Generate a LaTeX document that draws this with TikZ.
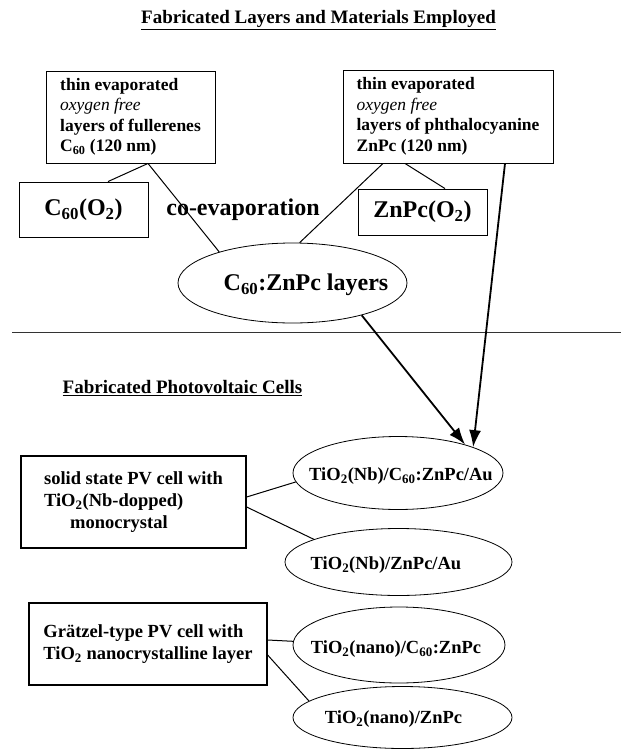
\documentclass[tikz,border=0pt]{standalone}
\usepackage{fontspec}
\setmainfont{Liberation Serif}
\usetikzlibrary{shapes.geometric,arrows.meta}
\newcommand{\sbs}[1]{\textsubscript{#1}}
\newcommand{\headfont}{\fontsize{19}{22}\selectfont\bfseries}
\newcommand{\boxfont}{\fontsize{17.5}{20.5}\selectfont\bfseries}
\newcommand{\bigfont}{\fontsize{24}{28}\selectfont\bfseries}
\newcommand{\cellfont}{\fontsize{18.5}{22}\selectfont\bfseries}

\begin{document}
\begin{tikzpicture}[x=1pt,y=-1pt,
  layerbox/.style={draw, line width=0.9pt, align=left, font=\boxfont, inner sep=0pt},
  oxbox/.style={draw, line width=0.9pt, font=\bigfont, minimum width=129pt, inner sep=0pt},
  cellbox/.style={draw, line width=1.3pt, align=left, font=\cellfont, inner sep=0pt},
  cellell/.style={draw, ellipse, line width=0.8pt, inner sep=0pt},
  celltxt/.style={font=\cellfont, inner sep=0pt}]
\useasboundingbox (0,0) rectangle (621,750);

\node[font=\headfont] (t1) at (318.5,20) {\underline{Fabricated Layers and Materials Employed}};

\node[layerbox, minimum width=169pt, minimum height=92pt] (fl) at (130.5,117) {thin evaporated\\ {\mdseries\itshape oxygen free}\\ layers of fullerenes\\ C\sbs{60} (120 nm)};
\node[layerbox, minimum width=210pt, minimum height=93pt] (pc) at (448,116.5) {thin evaporated\\ {\mdseries\itshape oxygen free}\\ layers of phthalocyanine\\ ZnPc (120 nm)};

\node[oxbox, minimum height=55pt] (co) at (83.5,209.5) {C\sbs{60}(O\sbs{2})};
\node[oxbox, minimum height=46pt] (zo) at (422.5,212) {ZnPc(O\sbs{2})};
\node[font=\bigfont] (cev) at (243,210) {co-evaporation};

\node[cellell, minimum width=229pt, minimum height=80pt] (cz) at (292.5,283) {};
\node[font=\bigfont, inner sep=0pt] (czt) at (306,285) {C\sbs{60}:ZnPc layers};

\path[draw,line width=1pt] ([xshift=17.5pt]fl.south) -- ([xshift=24.5pt]co.north);
\path[draw,line width=1pt] ([xshift=17.5pt]fl.south) -- (cz.157);
\path[draw,line width=1pt] ([xshift=-65pt]pc.south) -- (cz.80);
\path[draw,line width=1pt] ([xshift=-43pt]pc.south) -- ([xshift=22.5pt]zo.north);

% separator
\draw[line width=0.8pt, black!80] (12,332) -- (621,332);

\node[font=\headfont] (t2) at (182.5,388) {\underline{Fabricated Photovoltaic Cells}};

\node[cellbox, minimum width=225pt, minimum height=92pt] (ss) at (133.5,502) {solid state PV cell with\\ TiO\sbs{2}(Nb-dopped)\\ \hspace*{26pt}monocrystal};
\node[cellbox, minimum width=238pt, minimum height=82pt] (gr) at (148,644) {Grätzel-type PV cell with\\ TiO\sbs{2} nanocrystalline layer};

\node[cellell, minimum width=210pt, minimum height=73pt] (c1) at (398,473) {};
\node[celltxt] (c1t) at (401,476) {TiO\sbs{2}(Nb)/C\sbs{60}:ZnPc/Au};
\node[cellell, minimum width=227pt, minimum height=67pt] (c2) at (398.5,562) {};
\node[celltxt] (c2t) at (386,565) {TiO\sbs{2}(Nb)/ZnPc/Au};
\node[cellell, minimum width=212pt, minimum height=76pt] (c3) at (399,645) {};
\node[celltxt] (c3t) at (396,649) {TiO\sbs{2}(nano)/C\sbs{60}:ZnPc};
\node[cellell, minimum width=219pt, minimum height=62pt] (c4) at (402.5,717.5) {};
\node[celltxt] (c4t) at (393.5,719) {TiO\sbs{2}(nano)/ZnPc};

\path[draw,line width=1.8pt,->,>={Latex[length=17pt,width=12pt]}] (cz.-25) -- (c1.23);
\path[draw,line width=1.8pt,->,>={Latex[length=17pt,width=12pt]}] ([xshift=57pt]pc.south) -- (c1.19);

\path[draw,line width=1pt] ([yshift=5pt]ss.east) -- (c1.185);
\path[draw,line width=1pt] ([yshift=-5pt]ss.east) -- (c2.165);
\path[draw,line width=1pt] ([yshift=4pt]gr.east) -- (c3.178);
\path[draw,line width=1pt] ([yshift=-11pt]gr.east) -- (c4.170);
\end{tikzpicture}
\end{document}
